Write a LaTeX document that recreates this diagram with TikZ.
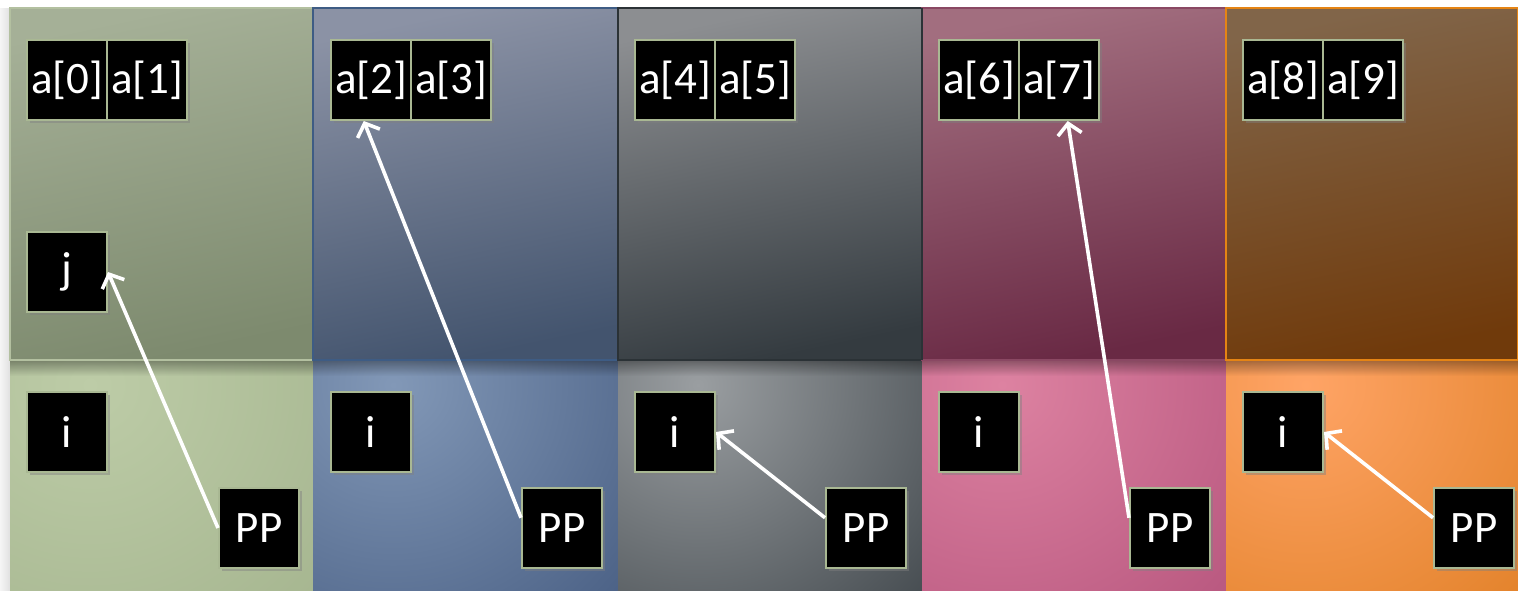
\documentclass[tikz,border=0pt]{standalone}
\usepackage{fontspec}
\setmainfont{Carlito}
\usetikzlibrary{arrows.meta,shadows,fadings}
\definecolor{boxline}{HTML}{A9B893}
\definecolor{TAa}{HTML}{A5B097}\definecolor{TAb}{HTML}{7D8A6E}
\definecolor{BAa}{HTML}{BDCCA7}\definecolor{BAb}{HTML}{A0B08A}\definecolor{LA}{HTML}{B3C0A0}
\definecolor{TBa}{HTML}{8B92A5}\definecolor{TBb}{HTML}{43546E}
\definecolor{BBa}{HTML}{8298B7}\definecolor{BBb}{HTML}{3C5278}\definecolor{LB}{HTML}{3E5C84}
\definecolor{TCa}{HTML}{8C8E91}\definecolor{TCb}{HTML}{343B40}
\definecolor{BCa}{HTML}{9A9EA1}\definecolor{BCb}{HTML}{2E353A}\definecolor{LC}{HTML}{2B3236}
\definecolor{TDa}{HTML}{A26E7F}\definecolor{TDb}{HTML}{692944}
\definecolor{BDa}{HTML}{DD82A1}\definecolor{BDb}{HTML}{AE4C76}\definecolor{LD}{HTML}{8A4863}
\definecolor{TEa}{HTML}{816549}\definecolor{TEb}{HTML}{703A0B}
\definecolor{BEa}{HTML}{FFA466}\definecolor{BEb}{HTML}{DA7818}\definecolor{LE}{HTML}{E58414}
\newcommand\colpanel[7]{%
  % #1 x1, #2 x2, #3 top a, #4 top b, #5 bottom a, #6 bottom b, #7 line
  \shade[top color=#3,bottom color=#4,shading angle=12] (#1,8) rectangle (#2,360);
  \fill[#6] (#1,360) rectangle (#2,590);
  \begin{scope}
    \clip (#1,360) rectangle (#2,590);
    \shade[inner color=#5,outer color=#6] (#1+80,385) circle (400);
    \fill[black,opacity=0.35,path fading=south] (#1,360) rectangle (#2,376);
  \end{scope}
  \draw[#7,line width=0.8pt] (#1,8) rectangle (#2,360);
  \draw[#7,line width=0.8pt] (#1,360) -- (#2,360);
}
\tikzset{
  x=0.5pt,y=-0.5pt,
  cell/.style={draw=boxline,line width=1pt,fill=black,text=white,
    minimum width=40pt,minimum height=40pt,inner sep=0pt,
    font=\fontsize{22.5}{26}\selectfont,
    drop shadow={shadow xshift=1.5pt,shadow yshift=-1.5pt,opacity=0.45}},
  ptr/.style={draw=white,line width=1.8pt,-{Straight Barb[length=5.5pt,width=12pt,line width=1.8pt]}}
}
\begin{document}
\begin{tikzpicture}
\useasboundingbox (0,0) rectangle (1518,590);
\fill[white] (0,0) rectangle (1518,590);
\shade[left color=black!4,right color=black!12] (0,8) rectangle (10,590);
\colpanel{10}{313}{TAa}{TAb}{BAa}{BAb}{LA}
\colpanel{313}{618}{TBa}{TBb}{BBa}{BBb}{LB}
\colpanel{618}{922}{TCa}{TCb}{BCa}{BCb}{LC}
\colpanel{922}{1226}{TDa}{TDb}{BDa}{BDb}{LD}
\colpanel{1226}{1518}{TEa}{TEb}{BEa}{BEb}{LE}
\draw[LC,line width=0.8pt] (922,8) -- (922,360);
% column 1
\node[cell] (a0) at (67,80) {a[0]};
\node[cell] (a1) at (147,80) {a[1]};
\node[cell] (j) at (67,272) {j};
\node[cell] (i1) at (67,432) {i};
\node[cell] (pp1) at (259,528) {PP};
% column 2
\node[cell] (a2) at (371,80) {a[2]};
\node[cell] (a3) at (451,80) {a[3]};
\node[cell] (i2) at (371,432) {i};
\node[cell] (pp2) at (562,528) {PP};
% column 3
\node[cell] (a4) at (675,80) {a[4]};
\node[cell] (a5) at (755,80) {a[5]};
\node[cell] (i3) at (675,432) {i};
\node[cell] (pp3) at (866,528) {PP};
% column 4
\node[cell] (a6) at (979,80) {a[6]};
\node[cell] (a7) at (1059,80) {a[7]};
\node[cell] (i4) at (979,432) {i};
\node[cell] (pp4) at (1170,528) {PP};
% column 5
\node[cell] (a8) at (1283,80) {a[8]};
\node[cell] (a9) at (1363,80) {a[9]};
\node[cell] (i5) at (1283,432) {i};
\node[cell] (pp5) at (1474,528) {PP};
% pointers
\draw[ptr] (pp1.west) -- (j.east);
\draw[ptr] (pp2.166) -- (a2.-100);
\draw[ptr] (pp3.166) -- (i3.east);
\draw[ptr] (pp4.166) -- (a7.-78);
\draw[ptr] (pp5.166) -- (i5.east);
\end{tikzpicture}
\end{document}
